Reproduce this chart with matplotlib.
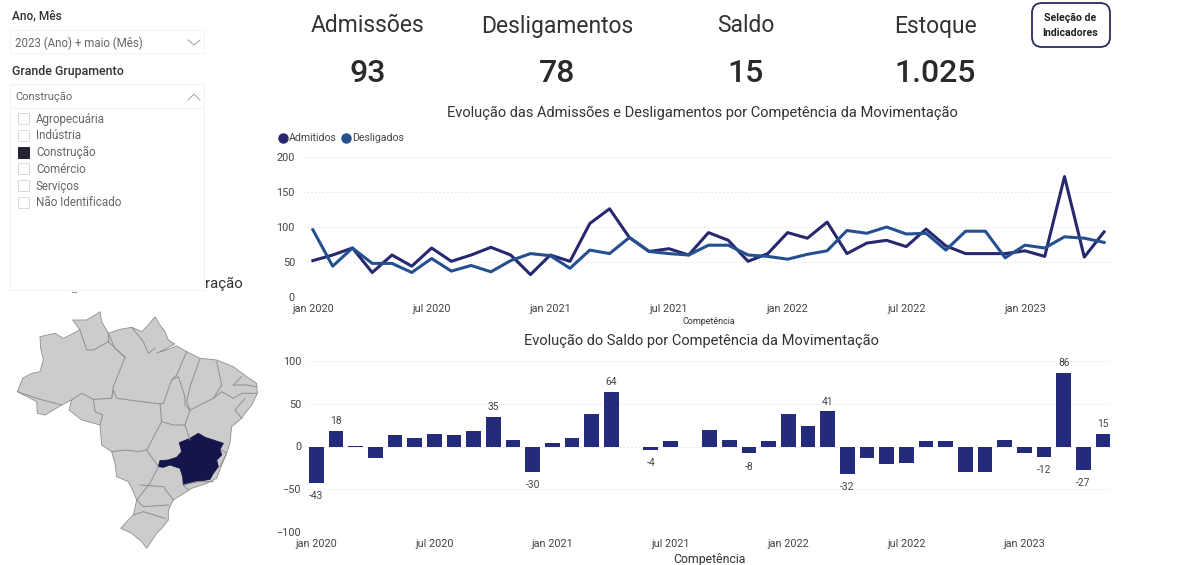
import matplotlib
matplotlib.use("Agg")
import matplotlib.pyplot as plt
from matplotlib.patches import FancyBboxPatch, Polygon, Rectangle

plt.rcParams["font.family"] = ["Roboto", "DejaVu Sans"]

# chart data
meses = list(range(41))
tick_meses = [0, 6, 12, 18, 24, 30, 36]
tick_labels = ["jan 2020", "jul 2020", "jan 2021", "jul 2021", "jan 2022", "jul 2022", "jan 2023"]
admitidos = [52, 60, 70, 35, 60, 44, 70, 51, 60, 71, 60, 32, 60, 51, 105, 126, 85, 65, 69, 60,
             92, 81, 51, 62, 92, 84, 107, 62, 77, 81, 72, 97, 73, 62, 62, 62, 66, 58, 172, 57, 93]
desligados = [96, 44, 70, 48, 48, 35, 55, 37, 45, 36, 52, 62, 59, 41, 67, 62, 85, 65, 62, 60,
              74, 74, 60, 58, 54, 61, 66, 95, 91, 100, 90, 91, 67, 94, 94, 56, 74, 70, 86, 84, 78]
saldo = [-43, 18, 1, -13, 14, 10, 15, 14, 18, 35, 8, -30, 4, 10, 38, 64, 0, -4, 7, 0,
         19, 8, -8, 7, 38, 24, 41, -32, -13, -20, -19, 6, 6, -30, -30, 8, -8, -12, 86, -27, 15]
saldo_rotulados = [0, 1, 9, 11, 15, 17, 22, 26, 27, 37, 38, 39, 40]

kpi_nomes = ["Admissões", "Desligamentos", "Saldo", "Estoque"]
kpi_valores = ["93", "78", "15", "1.025"]
grupamentos = ["Agropecuária", "Indústria", "Construção", "Comércio", "Serviços", "Não Identificado"]

ESCURO = "#27286f"
AZUL = "#25508f"
TEXTO = "#444444"

fig = plt.figure(figsize=(11.85, 5.65), dpi=100, facecolor="white")


def px_axes(x0, y0, x1, y1):
    return fig.add_axes([x0 / 1185, 1 - y1 / 565, (x1 - x0) / 1185, (y1 - y0) / 565])


# overlay in pixel coordinates for the report furniture
ui = px_axes(0, 0, 1185, 565)
ui.set_xlim(0, 1185)
ui.set_ylim(565, 0)
ui.axis("off")

# KPI cards
for x, nome, valor in zip([368, 557, 746, 935], kpi_nomes, kpi_valores):
    ui.text(x, 26, nome, ha="center", va="center", fontsize=16.5, color="#333333")
    ui.text(x, 74, valor, ha="center", va="center", fontsize=23, color="#2a2a2a", fontweight="medium")
ui.add_patch(FancyBboxPatch((1032, 3), 78, 44, boxstyle="round,pad=0,rounding_size=10",
                            fc="white", ec="#2a2a60", lw=1.3))
ui.text(1070, 18, "Seleção de", ha="center", va="center", fontsize=7.6, fontweight="bold", color="#222222")
ui.text(1070, 33, "Indicadores", ha="center", va="center", fontsize=7.6, fontweight="bold", color="#222222")

# titles
ui.text(702, 113, "Evolução das Admissões e Desligamentos por Competência da Movimentação",
        ha="center", va="center", fontsize=10.55, color="#333333")
ui.text(701.5, 341, "Evolução do Saldo por Competência da Movimentação",
        ha="center", va="center", fontsize=10.5, color="#333333")
ui.text(709, 322, "Competência", ha="center", va="center", fontsize=6.5, color="#333333")
ui.text(709, 559, "Competência", ha="center", va="center", fontsize=8.8, color="#333333")

# legend
ui.plot([283], [138], "o", ms=6.5, color=ESCURO)
ui.text(289, 138, "Admitidos", va="center", fontsize=7.6, color=TEXTO)
ui.plot([346], [138], "o", ms=6.5, color=AZUL)
ui.text(352, 138, "Desligados", va="center", fontsize=7.6, color=TEXTO)

# slicers
for caixa in [(10, 30, 194, 23), (10, 84, 194, 24), (10, 108, 194, 182)]:
    ui.add_patch(Rectangle(caixa[:2], caixa[2], caixa[3], fc="white", ec="#f2f2f2", lw=0.7))
ui.text(12, 16, "Ano, Mês", va="center", fontsize=8.6, color="#333333", fontweight="medium")
ui.text(15, 43, "2023 (Ano) + maio (Mês)", va="center", fontsize=8.3, color="#666666")
ui.plot([188, 194, 200], [40, 45, 40], color="#aaaaaa", lw=0.8)
ui.text(12, 71, "Grande Grupamento", va="center", fontsize=8.9, color="#333333", fontweight="medium")
ui.text(15, 97, "Construção", va="center", fontsize=8, color="#666666")
ui.plot([188, 194, 200], [100, 94, 100], color="#aaaaaa", lw=0.8)
for i, nome in enumerate(grupamentos):
    y = 119 + i * 16.8
    marcado = nome == "Construção"
    ui.add_patch(Rectangle((18, y - 6), 11, 11, fc="#222233" if marcado else "white",
                           ec="#222233" if marcado else "#d8d8d8", lw=0.7))
    ui.text(36, y, nome, va="center", fontsize=8.4, color="#666666")
ui.text(205, 284, "ração", va="center", fontsize=10.8, color="#333333")
ui.plot([72, 76], [292, 292], color="#999999", lw=0.8)

# line chart
ax = px_axes(303, 157, 1110, 297)
ax.plot(meses, admitidos, color=ESCURO, lw=2.2)
ax.plot(meses, desligados, color=AZUL, lw=2.2)
ax.set_xlim(-0.5, 40.3)
ax.set_ylim(0, 200)
ax.set_yticks([0, 50, 100, 150, 200])

# column chart
ax2 = px_axes(308, 361, 1110, 532)
ax2.bar(meses, saldo, width=0.75, color="#252b7b")
for i in saldo_rotulados:
    ax2.annotate(str(saldo[i]), (i, saldo[i]), xytext=(0, 7 if saldo[i] > 0 else -9.5),
                 textcoords="offset points", ha="center", va="center", fontsize=7.4, color=TEXTO)
ax2.set_xlim(-0.42, 40.35)
ax2.set_ylim(-100, 100)
ax2.set_yticks([-100, -50, 0, 50, 100])

for a, pad_y in ((ax, 5.8), (ax2, 5)):
    a.patch.set_alpha(0)
    a.set_xticks(tick_meses)
    a.set_xticklabels(tick_labels)
    a.tick_params(length=0, labelsize=7.8, labelcolor=TEXTO, pad=5)
    a.tick_params(axis="y", pad=pad_y)
    a.grid(axis="y", color="#d8d8d8", lw=0.7, ls=(0, (1, 3)))
    a.set_axisbelow(True)
    for s in a.spines.values():
        s.set_visible(False)

# map of Brazil
mapa = px_axes(0, 270, 270, 560)
mapa.set_xlim(0, 810)
mapa.set_ylim(870, 0)
mapa.axis("off")

CINZA = "#cccccc"
BORDA = "#8f8f8f"
brasil = [(52, 365), (68, 325), (95, 310), (120, 305), (130, 270), (122, 235), (120, 200), (165, 190),
          (190, 205), (240, 180), (218, 150), (260, 150), (285, 135), (300, 125), (305, 155), (325, 190),
          (360, 178), (395, 172), (425, 185), (445, 165), (465, 140), (480, 165), (495, 185), (505, 210),
          (525, 222), (470, 250), (530, 228), (560, 245), (600, 265), (650, 270), (700, 290), (740, 320),
          (770, 340), (772, 370), (755, 405), (735, 430), (725, 445), (695, 470), (690, 520), (680, 550),
          (665, 585), (650, 625), (620, 640), (575, 655), (520, 690), (505, 720), (505, 750), (485, 775),
          (470, 790), (440, 835), (425, 815), (395, 790), (362, 775), (385, 750), (400, 735), (410, 690),
          (400, 665), (385, 635), (350, 620), (345, 580), (335, 545), (305, 525), (300, 465), (245, 450),
          (207, 420), (215, 390), (185, 405), (135, 435), (112, 430), (110, 395)]
divisas = [
    [(52, 365), (110, 385), (185, 405)],
    [(240, 180), (260, 240), (280, 240), (325, 215), (325, 190)],
    [(325, 215), (375, 262), (340, 350), (335, 385)],
    [(215, 390), (245, 370), (280, 388), (335, 385), (340, 360), (350, 385), (480, 402)],
    [(280, 388), (285, 425), (308, 435), (300, 465)],
    [(325, 190), (345, 235), (375, 262)],
    [(395, 172), (430, 215), (445, 250), (465, 235)],
    [(560, 245), (530, 315), (515, 330), (490, 400), (480, 402)],
    [(515, 330), (535, 320), (555, 380), (555, 405), (570, 420), (555, 465), (520, 465), (485, 455), (480, 402)],
    [(600, 265), (570, 350), (560, 395), (570, 420), (640, 385), (665, 345), (650, 275)],
    [(485, 455), (440, 540), (415, 545), (375, 540), (335, 545)],
    [(440, 540), (475, 590), (450, 640), (410, 690)],
    [(420, 645), (490, 650), (520, 690)],
    [(410, 690), (430, 710), (505, 705)],
    [(400, 735), (430, 725), (495, 745)],
    [(555, 465), (570, 510)],
    [(640, 385), (665, 365), (700, 385), (725, 370), (772, 370)],
    [(700, 345), (740, 345), (770, 350)],
    [(700, 345), (725, 320)],
    [(725, 445), (705, 420), (735, 385)],
    [(660, 590), (680, 550), (665, 540)],
    [(640, 635), (590, 635), (550, 645), (565, 660)],
]
minas = [(475, 590), (480, 572), (505, 570), (530, 562), (545, 545), (538, 518), (570, 505), (595, 490),
         (615, 502), (640, 510), (670, 520), (660, 538), (665, 555), (650, 570), (655, 590), (640, 610),
         (630, 628), (590, 635), (565, 640), (550, 645), (548, 620), (540, 595), (510, 585), (490, 592)]

mapa.add_patch(Polygon(brasil, closed=True, fc=CINZA, ec=BORDA, lw=0.6))
for d in divisas:
    mapa.plot(*zip(*d), color=BORDA, lw=0.7)
mapa.add_patch(Polygon(minas, closed=True, fc="#14154a", ec="#14154a", lw=0.6))

plt.savefig("out.png", dpi=100)
